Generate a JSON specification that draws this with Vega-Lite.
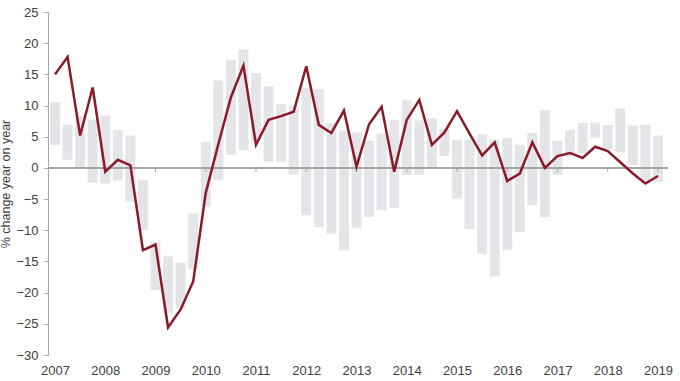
{
  "$schema": "https://vega.github.io/schema/vega-lite/v6.json",
  "width": 620,
  "height": 343,
  "autosize": "none",
  "padding": {"left": 48, "top": 12, "right": 12, "bottom": 26},
  "config": {
    "view": {"stroke": null},
    "font": "Liberation Sans",
    "axis": {"labelFont": "Liberation Sans", "titleFont": "Liberation Sans", "labelColor": "#404040", "titleColor": "#404040", "grid": false}
  },
  "data": {"values": [
    {"t": 2007.00, "v": 15.0, "lo": 3.7, "hi": 10.5},
    {"t": 2007.25, "v": 17.8, "lo": 1.3, "hi": 6.9},
    {"t": 2007.50, "v": 5.2, "lo": 0.0, "hi": 8.3},
    {"t": 2007.75, "v": 12.9, "lo": -2.4, "hi": 7.7},
    {"t": 2008.00, "v": -0.6, "lo": -2.5, "hi": 8.4},
    {"t": 2008.25, "v": 1.3, "lo": -2.0, "hi": 6.1},
    {"t": 2008.50, "v": 0.4, "lo": -5.4, "hi": 5.2},
    {"t": 2008.75, "v": -13.2, "lo": -10.0, "hi": -1.9},
    {"t": 2009.00, "v": -12.3, "lo": -19.6, "hi": -11.9},
    {"t": 2009.25, "v": -25.6, "lo": -23.3, "hi": -14.2},
    {"t": 2009.50, "v": -22.7, "lo": -22.5, "hi": -15.2},
    {"t": 2009.75, "v": -18.2, "lo": -16.2, "hi": -7.3},
    {"t": 2010.00, "v": -4.0, "lo": -6.2, "hi": 4.2},
    {"t": 2010.25, "v": 3.8, "lo": -1.9, "hi": 14.0},
    {"t": 2010.50, "v": 11.3, "lo": 2.1, "hi": 17.3},
    {"t": 2010.75, "v": 16.4, "lo": 2.85, "hi": 19.0},
    {"t": 2011.00, "v": 3.7, "lo": 4.35, "hi": 15.2},
    {"t": 2011.25, "v": 7.7, "lo": 1.0, "hi": 13.1},
    {"t": 2011.50, "v": 8.3, "lo": 1.0, "hi": 10.2},
    {"t": 2011.75, "v": 9.0, "lo": -1.1, "hi": 10.0},
    {"t": 2012.00, "v": 16.3, "lo": -7.6, "hi": 12.85},
    {"t": 2012.25, "v": 6.9, "lo": -9.5, "hi": 12.6},
    {"t": 2012.50, "v": 5.6, "lo": -10.5, "hi": 7.2},
    {"t": 2012.75, "v": 9.2, "lo": -13.2, "hi": 6.0},
    {"t": 2013.00, "v": 0.2, "lo": -9.6, "hi": 5.7},
    {"t": 2013.25, "v": 7.0, "lo": -7.85, "hi": 4.35},
    {"t": 2013.50, "v": 9.8, "lo": -6.8, "hi": 5.5},
    {"t": 2013.75, "v": -0.6, "lo": -6.4, "hi": 7.7},
    {"t": 2014.00, "v": 7.7, "lo": -1.1, "hi": 10.85},
    {"t": 2014.25, "v": 10.9, "lo": -1.1, "hi": 7.6},
    {"t": 2014.50, "v": 3.7, "lo": -0.2, "hi": 7.95},
    {"t": 2014.75, "v": 5.7, "lo": 1.9, "hi": 6.3},
    {"t": 2015.00, "v": 9.1, "lo": -4.9, "hi": 4.5},
    {"t": 2015.25, "v": 5.5, "lo": -9.8, "hi": 4.5},
    {"t": 2015.50, "v": 2.0, "lo": -13.8, "hi": 5.4},
    {"t": 2015.75, "v": 4.1, "lo": -17.4, "hi": 4.5},
    {"t": 2016.00, "v": -2.1, "lo": -13.2, "hi": 4.8},
    {"t": 2016.25, "v": -0.9, "lo": -10.3, "hi": 3.7},
    {"t": 2016.50, "v": 4.1, "lo": -6.0, "hi": 5.6},
    {"t": 2016.75, "v": 0.0, "lo": -7.9, "hi": 9.3},
    {"t": 2017.00, "v": 1.9, "lo": -1.1, "hi": 4.35},
    {"t": 2017.25, "v": 2.4, "lo": 1.8, "hi": 6.1},
    {"t": 2017.50, "v": 1.6, "lo": 2.3, "hi": 7.2},
    {"t": 2017.75, "v": 3.4, "lo": 4.85, "hi": 7.3},
    {"t": 2018.00, "v": 2.7, "lo": 3.0, "hi": 6.9},
    {"t": 2018.25, "v": 0.9, "lo": 2.5, "hi": 9.5},
    {"t": 2018.50, "v": -0.9, "lo": 0.5, "hi": 6.8},
    {"t": 2018.75, "v": -2.5, "lo": -2.4, "hi": 6.9},
    {"t": 2019.00, "v": -1.3, "lo": -2.2, "hi": 5.2}
  ]},
  "layer": [
    {
      "mark": {"type": "bar", "width": 10, "color": "#e3e5e8", "clip": true},
      "encoding": {
        "x": {"field": "t", "type": "quantitative",
          "scale": {"domain": [2006.96, 2019.1], "nice": false, "zero": false},
          "axis": {"values": [2007, 2008, 2009, 2010, 2011, 2012, 2013, 2014, 2015, 2016, 2017, 2018, 2019], "format": "d", "title": null, "domain": false, "ticks": false, "tickSize": 0, "labelPadding": 9, "labelFontSize": 13, "labelOverlap": false, "labelFlush": false}},
        "y": {"field": "lo", "type": "quantitative",
          "scale": {"domain": [-30, 25], "nice": false, "zero": false},
          "axis": {"values": [-30, -25, -20, -15, -10, -5, 0, 5, 10, 15, 20, 25], "title": "% change  year on year", "titleFontSize": 12.5, "titleFontWeight": "normal", "titlePadding": 3, "labelFontSize": 13, "labelOverlap": false, "labelFlush": false, "domainColor": "#a6a6a6", "tickColor": "#a6a6a6", "tickSize": 4, "labelPadding": 6}},
        "y2": {"field": "hi"}
      }
    },
    {
      "mark": {"type": "rule", "color": "#a6a6a6", "strokeWidth": 1.2},
      "encoding": {"y": {"datum": 0, "type": "quantitative",
          "axis": {"values": [-30, -25, -20, -15, -10, -5, 0, 5, 10, 15, 20, 25], "title": "% change  year on year", "titleFontSize": 12.5, "titleFontWeight": "normal", "titlePadding": 3, "labelFontSize": 13, "labelOverlap": false, "labelFlush": false, "domainColor": "#a6a6a6", "tickColor": "#a6a6a6", "tickSize": 4, "labelPadding": 6}}}
    },
    {
      "data": {"values": [{"yr": 2008}, {"yr": 2009}, {"yr": 2010}, {"yr": 2011}, {"yr": 2012}, {"yr": 2013}, {"yr": 2014}, {"yr": 2015}, {"yr": 2016}, {"yr": 2017}, {"yr": 2018}, {"yr": 2019}]},
      "mark": {"type": "rule", "color": "#a6a6a6", "strokeWidth": 1},
      "encoding": {
        "x": {"field": "yr", "type": "quantitative",
          "axis": {"values": [2007, 2008, 2009, 2010, 2011, 2012, 2013, 2014, 2015, 2016, 2017, 2018, 2019], "format": "d", "title": null, "domain": false, "ticks": false, "tickSize": 0, "labelPadding": 9, "labelFontSize": 13, "labelOverlap": false, "labelFlush": false}},
        "y": {"datum": 0, "type": "quantitative",
          "axis": {"values": [-30, -25, -20, -15, -10, -5, 0, 5, 10, 15, 20, 25], "title": "% change  year on year", "titleFontSize": 12.5, "titleFontWeight": "normal", "titlePadding": 3, "labelFontSize": 13, "labelOverlap": false, "labelFlush": false, "domainColor": "#a6a6a6", "tickColor": "#a6a6a6", "tickSize": 4, "labelPadding": 6}},
        "y2": {"datum": -0.65}
      }
    },
    {
      "mark": {"type": "line", "color": "#8b1a2a", "strokeWidth": 2.5, "strokeJoin": "miter"},
      "encoding": {
        "x": {"field": "t", "type": "quantitative",
          "axis": {"values": [2007, 2008, 2009, 2010, 2011, 2012, 2013, 2014, 2015, 2016, 2017, 2018, 2019], "format": "d", "title": null, "domain": false, "ticks": false, "tickSize": 0, "labelPadding": 9, "labelFontSize": 13, "labelOverlap": false, "labelFlush": false}},
        "y": {"field": "v", "type": "quantitative",
          "axis": {"values": [-30, -25, -20, -15, -10, -5, 0, 5, 10, 15, 20, 25], "title": "% change  year on year", "titleFontSize": 12.5, "titleFontWeight": "normal", "titlePadding": 3, "labelFontSize": 13, "labelOverlap": false, "labelFlush": false, "domainColor": "#a6a6a6", "tickColor": "#a6a6a6", "tickSize": 4, "labelPadding": 6}}
      }
    }
  ]
}
